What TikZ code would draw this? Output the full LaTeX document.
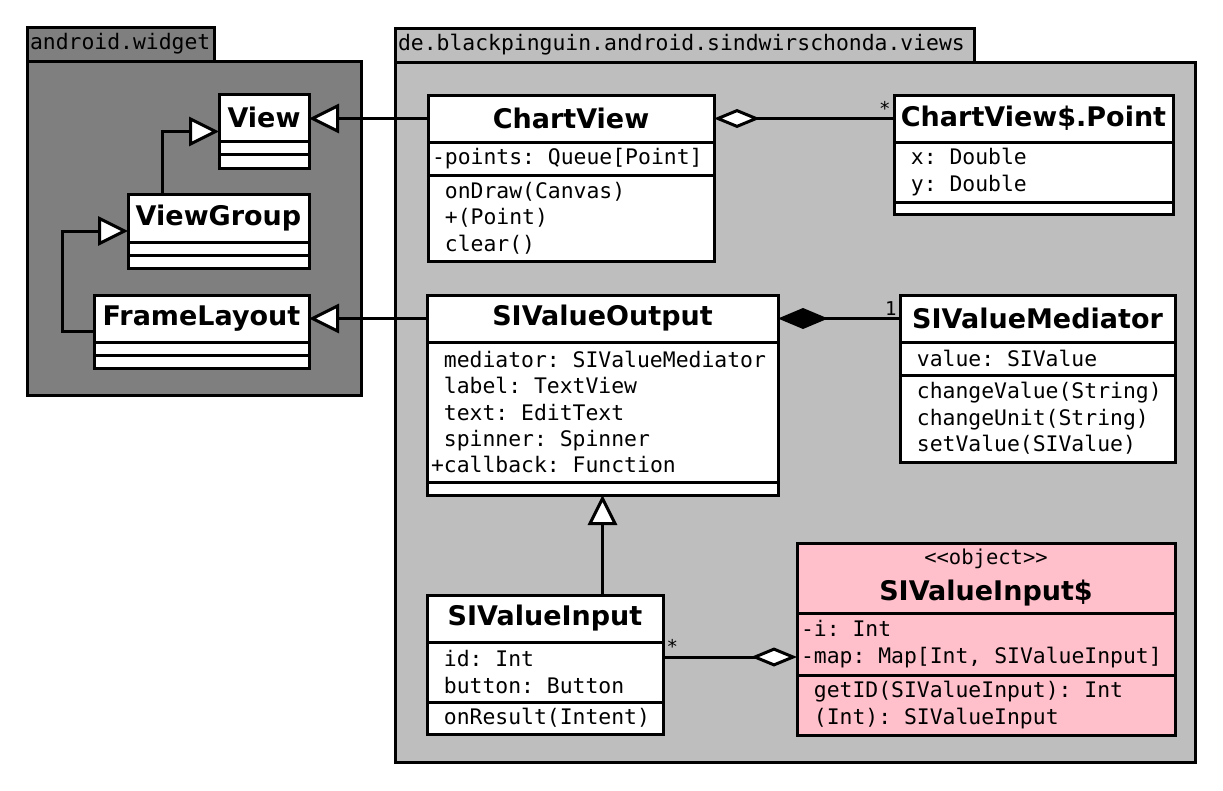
\documentclass[tikz,border=0pt]{standalone}
\usepackage{fontspec}
\setmainfont{DejaVu Sans}
\setmonofont{DejaVu Sans Mono}
\usetikzlibrary{positioning,arrows.meta}

\definecolor{widgetgray}{RGB}{127,127,127}
\definecolor{viewsgray}{RGB}{190,190,190}
\definecolor{objectpink}{RGB}{255,192,203}

\newcommand\titlefont{\fontsize{27}{32}\selectfont\bfseries}
\newcommand\memberfont{\fontsize{21.4}{26.3}\selectfont\ttfamily\frenchspacing}
\newcommand\multfont{\fontsize{19}{23}\selectfont\ttfamily}
\newcommand\novis{\hphantom{+}}
\newcommand\monospace{\spaceskip=0.602em\xspaceskip=0.602em\relax}

\begin{document}
\begin{tikzpicture}[
        x=1pt, y=-1pt,
        line width=3pt,
        package/.style={
            draw,
            outer sep=0pt,
            inner sep=0pt,
            anchor=north west
        },
        packagetab/.style={
            draw,
            outer sep=0pt,
            inner xsep=3pt,
            inner ysep=0pt,
            minimum height=34pt,
            align=flush left,
            font=\memberfont
        },
        classhead/.style={
            draw,
            fill=white,
            outer sep=0pt,
            inner sep=0pt,
            anchor=north west,
            minimum height=47pt,
            font=\titlefont
        },
        classpart/.style={
            draw,
            fill=white,
            outer sep=0pt,
            inner xsep=4pt,
            inner ysep=0pt,
            align=flush left,
            font=\memberfont,
            execute at begin node=\monospace
        },
        inherits/.style={-{Triangle[length=30pt, width=29pt, fill=white]}},
        aggregate/.style={-{Diamond[length=46pt, width=19pt, fill=white]}},
        composite/.style={-{Diamond[length=50pt, width=21pt]}},
        mult/.style={inner sep=2pt, font=\multfont}
    ]
    \useasboundingbox (0,0) rectangle (1223,790);

    % Pakete
    \node[package, fill=widgetgray, minimum width=334pt, minimum height=334pt] (widgetpkg) at (27,61) {};
    \node[packagetab, fill=widgetgray, text width=181pt, above right=0pt and 0pt of widgetpkg.north west] (widgettab) {android.widget};
    \node[package, fill=viewsgray, minimum width=800pt, minimum height=700pt] (viewspkg) at (395,62) {};
    \node[packagetab, fill=viewsgray, text width=573pt, above right=0pt and 0pt of viewspkg.north west] (viewstab) {de.blackpinguin.android.sindwirschonda.views};

    % android.widget
    \node[classhead, minimum width=90pt] (viewhead) at (219,94) {View};
    \node[classpart, text width=82pt, minimum height=13pt, below=0pt of viewhead] (viewattr) {};
    \node[classpart, text width=82pt, minimum height=14pt, below=0pt of viewattr] (viewops) {};

    \node[classhead, minimum width=181pt, minimum height=48pt] (grouphead) at (128,194) {ViewGroup};
    \node[classpart, text width=173pt, minimum height=13pt, below=0pt of grouphead] (groupattr) {};
    \node[classpart, text width=173pt, minimum height=13pt, below=0pt of groupattr] (groupops) {};

    \node[classhead, minimum width=215pt] (framehead) at (94,295) {FrameLayout};
    \node[classpart, text width=207pt, minimum height=13pt, below=0pt of framehead] (frameattr) {};
    \node[classpart, text width=207pt, minimum height=13pt, below=0pt of frameattr] (frameops) {};

    % ChartView
    \node[classhead, minimum width=286pt] (charthead) at (428,95) {ChartView};
    \node[classpart, text width=278pt, minimum height=33pt, below=0pt of charthead] (chartattr) {-points: Queue[Point]};
    \node[classpart, text width=278pt, minimum height=86pt, below=0pt of chartattr] (chartops) {\novis onDraw(Canvas)\\\novis +(Point)\\\novis clear()};

    \node[classhead, minimum width=279pt] (pointhead) at (894,95) {ChartView\$.Point};
    \node[classpart, text width=271pt, minimum height=60pt, below=0pt of pointhead] (pointattr) {\novis x: Double\\\novis y: Double};
    \node[classpart, text width=271pt, minimum height=12pt, below=0pt of pointattr] (pointops) {};

    % SIValueOutput
    \node[classhead, minimum width=351pt] (outhead) at (427,295) {SIValueOutput};
    \node[classpart, text width=343pt, minimum height=140pt, below=0pt of outhead] (outattr) {\novis mediator: SIValueMediator\\\novis label: TextView\\\novis text: EditText\\\novis spinner: Spinner\\+callback: Function};
    \node[classpart, text width=343pt, minimum height=13pt, below=0pt of outattr] (outops) {};

    \node[classhead, minimum width=275pt] (medhead) at (900,295) {SIValueMediator};
    \node[classpart, text width=267pt, minimum height=33pt, below=0pt of medhead] (medattr) {\novis value: SIValue};
    \node[classpart, text width=267pt, minimum height=87pt, below=0pt of medattr] (medops) {\novis changeValue(String)\\\novis changeUnit(String)\\\novis setValue(SIValue)};

    % SIValueInput
    \node[classhead, minimum width=236pt] (inhead) at (427,595) {SIValueInput};
    \node[classpart, text width=228pt, minimum height=60pt, below=0pt of inhead] (inattr) {\novis id: Int\\\novis button: Button};
    \node[classpart, text width=228pt, minimum height=32pt, below=0pt of inattr] (inops) {\novis onResult(Intent)};

    \node[classhead, fill=objectpink, minimum width=378pt, minimum height=70pt, align=center] (objhead) at (797,543) {{\fontsize{20.5}{24}\selectfont\mdseries\ttfamily <<object>>}\\[4pt]SIValueInput\$};
    \node[classpart, fill=objectpink, text width=370pt, minimum height=62pt, below=0pt of objhead] (objattr) {-i: Int\\-map: Map[Int, SIValueInput]};
    \node[classpart, fill=objectpink, text width=370pt, minimum height=60pt, below=0pt of objattr] (objops) {\novis getID(SIValueInput): Int\\\novis (Int): SIValueInput};

    % Vererbung
    \draw[inherits] ([xshift=34pt]grouphead.north west) |- ([yshift=-14pt]viewhead.west);
    \draw[inherits] ([yshift=-13pt]framehead.west) -- ++(-32pt,0) |- ([yshift=-13pt]grouphead.west);
    \draw[inherits] (charthead.west) -- (charthead.west -| viewhead.east);
    \draw[inherits] (outhead.west) -- (framehead.east);
    \draw[inherits] (inhead.north -| outops.south) -- (outops.south);

    % Aggregation / Komposition
    \draw[aggregate] (pointhead.west) -- (charthead.east);
    \node[mult, anchor=south east] (pointmult) at (pointhead.west) {*};
    \draw[composite] (medhead.west) -- (outhead.east);
    \node[mult, anchor=south east] (medmult) at (medhead.west) {1};
    \coordinate (inlink) at ([yshift=-15pt]inattr.north east);
    \draw[aggregate] (inlink) -- (inlink -| objattr.west);
    \node[mult, anchor=south west] (inmult) at (inlink) {*};
\end{tikzpicture}
\end{document}
